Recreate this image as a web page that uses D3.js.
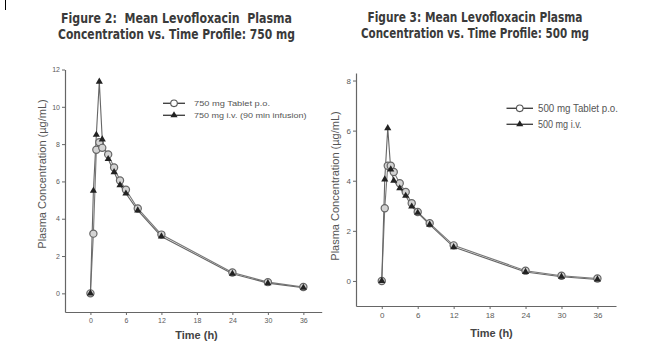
<!DOCTYPE html>
<html><head><meta charset="utf-8">
<script src="https://cdn.jsdelivr.net/npm/d3@7"></script>
<style>
html,body{margin:0;padding:0;background:#fff;}
svg{display:block;}
</style>
</head><body>
<svg id="chart" width="668" height="351"></svg>
<script>
// ---- data ----
const times = [0, 0.5, 1, 1.5, 2, 3, 4, 5, 6, 8, 12, 24, 30, 36];
const tablet750 = [0, 3.2, 7.7, 8.1, 7.8, 7.45, 6.75, 6.05, 5.55, 4.55, 3.15, 1.12, 0.6, 0.34];
const iv750 = [0, 5.5, 8.5, 11.35, 8.25, 7.2, 6.5, 5.8, 5.35, 4.45, 3.05, 1.05, 0.55, 0.3];
const tablet500 = [0, 2.9, 4.6, 4.6, 4.35, 3.9, 3.55, 3.1, 2.75, 2.3, 1.42, 0.41, 0.21, 0.1];
const iv500 = [0, 4.05, 6.1, 4.45, 4.0, 3.7, 3.4, 2.97, 2.72, 2.25, 1.35, 0.36, 0.17, 0.06];
const xTicks = [0, 6, 12, 18, 24, 30, 36];
const yTicks750 = [0, 2, 4, 6, 8, 10, 12];
const yTicks500 = [0, 2, 4, 6, 8];
const titles750 = ["Figure 2:  Mean Levofloxacin  Plasma", "Concentration vs. Time Profile: 750 mg"];
const titles500 = ["Figure 3: Mean Levofloxacin Plasma", "Concentration vs. Time Profile: 500 mg"];
const legend750 = ["750 mg Tablet p.o.", "750 mg i.v. (90 min infusion)"];
const legend500 = ["500 mg Tablet p.o.", "500 mg i.v."];
const xLabel = "Time (h)";
const yLabel = "Plasma Concentration (\u00b5g/mL)";

const svg = d3.select("#chart");
const narrow = "'Liberation Sans Narrow','DejaVu Sans Condensed','Arial Narrow',sans-serif";
const sans = "'Liberation Sans',Arial,Helvetica,sans-serif";

// small artifact line top-left
svg.append("line").attr("x1",5.5).attr("x2",5.5).attr("y1",0).attr("y2",10)
  .attr("stroke","#000").attr("stroke-width",1);

function drawChart(cfg) {
  const g = svg.append("g");
  // titles
  cfg.titles.forEach((t, i) => {
    g.append("text").text(t)
      .attr("x", cfg.titleX).attr("y", cfg.titleY[i])
      .attr("text-anchor","middle")
      .attr("textLength", cfg.titleW[i]).attr("lengthAdjust","spacingAndGlyphs")
      .style("white-space","pre")
      .style("font-family", narrow).style("font-weight","bold")
      .style("font-size","14px").style("fill","#3a3a3a");
  });

  const x = d3.scaleLinear().domain([-4.3, 39.1]).range(cfg.xRange);
  const y = d3.scaleLinear().domain(cfg.yDomain).range(cfg.yRange);

  const xAxis = g.append("g").attr("transform", `translate(0,${cfg.yRange[0]})`)
    .call(d3.axisBottom(x).tickValues(xTicks).tickSize(3).tickSizeOuter(0).tickPadding(3));
  const yAxis = g.append("g").attr("transform", `translate(${cfg.xRange[0]},0)`)
    .call(d3.axisLeft(y).tickValues(cfg.yTicks).tickSize(3).tickSizeOuter(0).tickPadding(2));
  [xAxis, yAxis].forEach(a => {
    a.select(".domain").attr("stroke","#666").attr("stroke-width",1.2);
    a.selectAll(".tick line").attr("stroke","#666");
    a.selectAll(".tick text").style("font-family", sans).style("font-size", cfg.tickFs + "px").style("fill","#5a5a5a");
  });

  // axis labels
  g.append("text").text(xLabel)
    .attr("x", cfg.xLabelX).attr("y", cfg.xLabelY).attr("text-anchor","middle")
    .style("font-family", sans).style("font-weight","bold").style("font-size","11px").style("fill","#444");
  g.append("text").text(yLabel)
    .attr("transform", `translate(${cfg.yLabelX},${cfg.yLabelY}) rotate(-90)`)
    .attr("text-anchor","middle")
    .style("font-family", sans).style("font-size","11px").style("fill","#555");

  const tabletPts = times.map((t, i) => [t, cfg.tablet[i]]);
  const ivPts = times.map((t, i) => [t, cfg.iv[i]]);
  const line = d3.line().x(d => x(d[0])).y(d => y(d[1]));

  g.append("path").datum(tabletPts).attr("d", line)
    .attr("fill","none").attr("stroke","#777").attr("stroke-width",1.1);
  g.append("path").datum(ivPts).attr("d", line)
    .attr("fill","none").attr("stroke","#666").attr("stroke-width",1.1);

  g.selectAll(".circ").data(tabletPts).enter().append("circle")
    .attr("cx", d => x(d[0])).attr("cy", d => y(d[1])).attr("r", 3.6)
    .attr("fill","#d4d4d4").attr("stroke","#666").attr("stroke-width",1.2);
  const tri = d3.symbol().type(d3.symbolTriangle).size(22);
  g.selectAll(".tri").data(ivPts).enter().append("path")
    .attr("d", tri).attr("transform", d => `translate(${x(d[0])},${y(d[1])})`)
    .attr("fill","#222");

  // legend
  const L = cfg.legend;
  cfg.legendText.forEach((t, i) => {
    const ly = L.y[i];
    g.append("line").attr("x1", L.x1).attr("x2", L.x2).attr("y1", ly).attr("y2", ly)
      .attr("stroke","#444").attr("stroke-width",1.4);
    if (i === 0) {
      g.append("circle").attr("cx", (L.x1+L.x2)/2).attr("cy", ly).attr("r", 3.3)
        .attr("fill","#fff").attr("stroke","#555").attr("stroke-width",1.1);
    } else {
      g.append("path").attr("d", tri).attr("transform", `translate(${(L.x1+L.x2)/2},${ly})`).attr("fill","#222");
    }
    g.append("text").text(t).attr("x", L.tx).attr("y", ly + L.fs*0.35)
      .attr("textLength", L.tw[i]).attr("lengthAdjust","spacingAndGlyphs")
      .style("font-family", sans).style("font-size", L.fs + "px").style("fill","#555");
  });
}

drawChart({
  titles: titles750, titleX: 176.5, titleY: [23, 39], titleW: [231, 237],
  xRange: [65, 321.7], yDomain: [-1, 12], yRange: [312, 69.5], yTicks: yTicks750, tickFs: 7,
  xLabelX: 196.5, xLabelY: 339, yLabelX: 45.5, yLabelY: 174,
  tablet: tablet750, iv: iv750,
  legendText: legend750,
  legend: { x1: 163, x2: 185, y: [103.3, 115.3], tx: 194, tw: [76, 112.5], fs: 8 }
});
drawChart({
  titles: titles500, titleX: 475, titleY: [22, 37.5], titleW: [215, 228],
  xRange: [356, 616], yDomain: [-1, 8.3], yRange: [306, 73], yTicks: yTicks500, tickFs: 8,
  xLabelX: 491.5, xLabelY: 337, yLabelX: 339, yLabelY: 186,
  tablet: tablet500, iv: iv500,
  legendText: legend500,
  legend: { x1: 506.5, x2: 533, y: [108.3, 124.3], tx: 538, tw: [80, 43.5], fs: 10 }
});
</script>
</body></html>
